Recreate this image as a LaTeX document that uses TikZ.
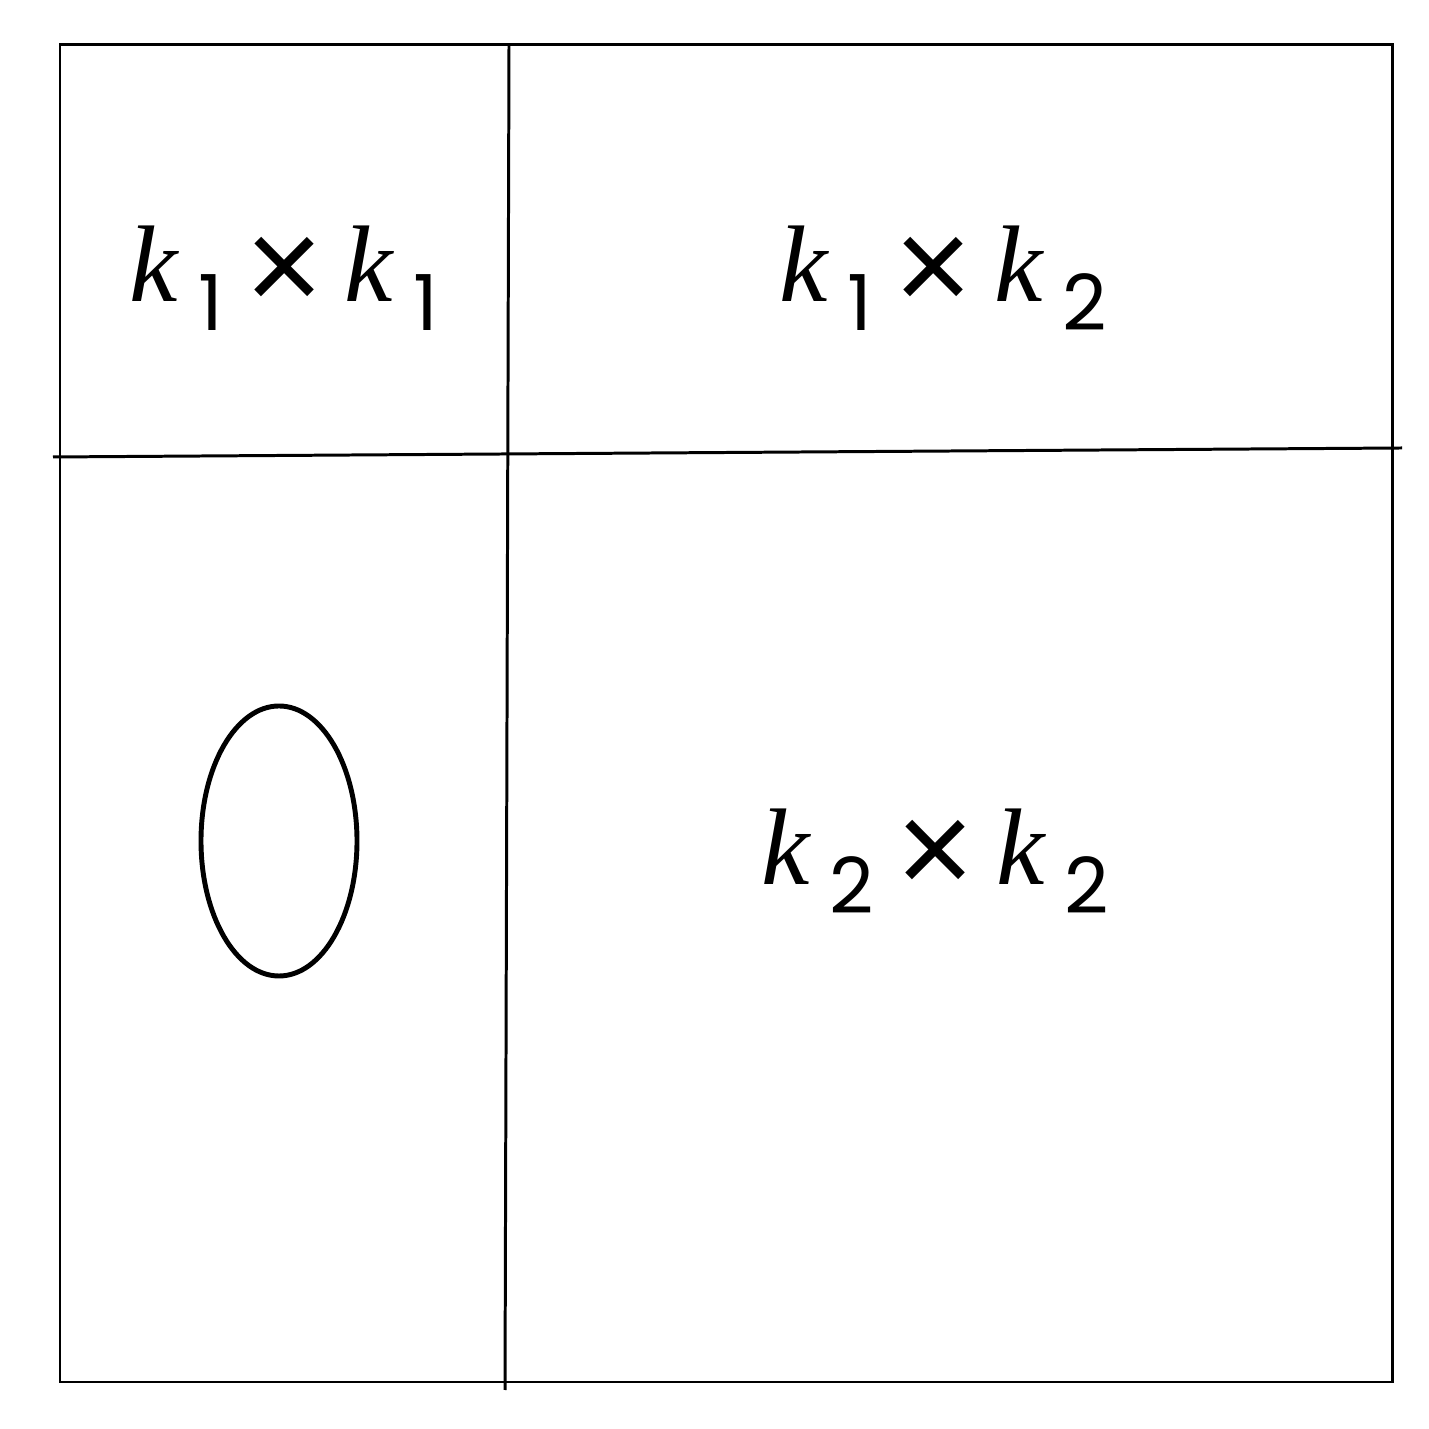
\documentclass[tikz,border=0pt]{standalone}
\usepackage{fontspec}
\setmainfont{Liberation Serif}
\newfontfamily\digitfont{Poppins}
\newfontfamily\crossfont{Liberation Sans}
\usetikzlibrary{shapes.geometric, positioning, calc}

% block label: k_a x k_b
\newcommand{\kprod}[2]{%
  {\fontsize{31}{31}\selectfont\itshape k}\hspace{0.2cm}%
  \raisebox{-0.29cm}{\digitfont\fontsize{22}{22}\selectfont #1}\hspace{0.22cm}%
  \raisebox{-0.1cm}{\crossfont\fontsize{38}{38}\selectfont ×}\hspace{0.22cm}%
  {\fontsize{31}{31}\selectfont\itshape k}\hspace{0.2cm}%
  \raisebox{-0.29cm}{\digitfont\fontsize{22}{22}\selectfont #2}}

\begin{document}
\begin{tikzpicture}[
    frame/.style={draw, line width=0.85pt},
    cut/.style={line width=0.85pt},
    blob/.style={draw, ellipse, line width=1.4pt, minimum width=1.56cm, minimum height=2.7cm, inner sep=0pt},
    block label/.style={anchor=base, inner sep=0pt}
]
\useasboundingbox (0,0) rectangle (14.29,14.29);

% Frame
\draw[frame] (0.60,0.47) rectangle (13.92,13.84);

% Partition lines
\coordinate (V_top) at (5.09,13.84);
\coordinate (V_bot) at (5.05,0.39);
\coordinate (H_left) at (0.53,9.72);
\coordinate (H_right) at (14.02,9.81);
\draw[cut] (V_top) -- (V_bot);
\draw[cut] (H_left) -- (H_right);

% Labels
\node[block label] (B11) at (2.84,11.27) {\kprod{1}{1}};
\node[block label] (B12) at (9.43,11.27) {\kprod{1}{2}};
\node[block label] (B22) at (9.35,5.44) {\kprod{2}{2}};

% Ellipse
\node[blob] (E) at (2.79,5.88) {};

\end{tikzpicture}
\end{document}
